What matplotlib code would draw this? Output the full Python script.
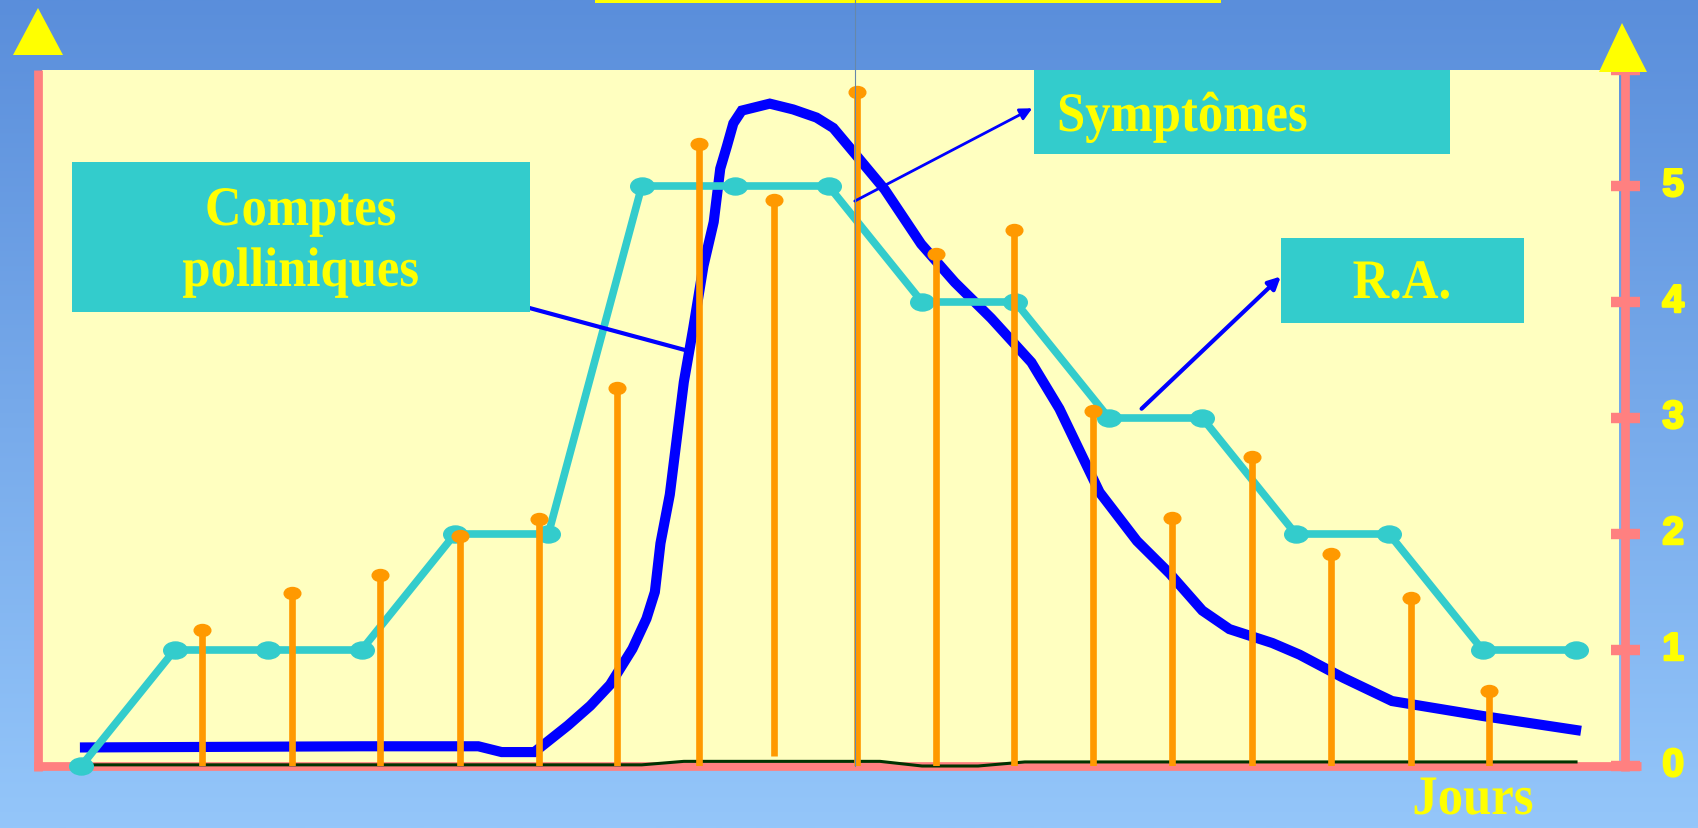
import numpy as np
import matplotlib
matplotlib.use("Agg")
import matplotlib.pyplot as plt
from matplotlib.path import Path
from matplotlib.transforms import Affine2D
from matplotlib.patches import Polygon, Rectangle
from matplotlib.lines import Line2D
from matplotlib.patheffects import AbstractPathEffect, withStroke

# ---------------- data ----------------
ra_days = [0, 1, 2, 3, 4, 5, 6, 7, 8, 9, 10, 11, 12, 13, 14, 15, 16]
ra_values = [0, 1, 1, 1, 2, 2, 5, 5, 5, 4, 4, 3, 3, 2, 2, 1, 1]

stem_days = [1.29, 2.26, 3.20, 4.05, 4.90, 5.74, 6.61, 7.41, 8.30, 9.15,
             9.98, 10.83, 11.68, 12.53, 13.38, 14.23, 15.07]
stem_values = [1.17, 1.49, 1.65, 1.98, 2.13, 3.26, 5.36, 4.88, 5.81, 4.41,
               4.62, 3.06, 2.14, 2.66, 1.83, 1.45, 0.65]
stem_bases = [0, 0, 0, 0, 0, 0, 0, 0.09, 0, 0, 0, 0, 0, 0, 0, 0, 0]

pollen_days = [0.04, 3.0, 4.25, 4.5, 4.85, 4.96, 5.21, 5.45, 5.66, 5.9, 6.05,
               6.14, 6.20, 6.30, 6.45, 6.55, 6.66, 6.77, 6.84, 6.91, 6.98,
               7.07, 7.37, 7.62, 7.87, 8.05, 8.30, 8.60, 8.99, 9.35, 9.74,
               10.17, 10.47, 10.90, 11.30, 11.65, 12.00, 12.29, 12.75, 13.04,
               13.51, 14.03, 15.01, 16.0]
pollen_values = [0.16, 0.17, 0.17, 0.12, 0.12, 0.19, 0.35, 0.52, 0.70, 1.01,
                 1.27, 1.50, 1.92, 2.34, 3.31, 3.77, 4.31, 4.69, 5.15, 5.34,
                 5.54, 5.65, 5.71, 5.66, 5.59, 5.50, 5.26, 4.97, 4.50, 4.17,
                 3.86, 3.48, 3.08, 2.36, 1.94, 1.66, 1.34, 1.18, 1.06, 0.96,
                 0.76, 0.56, 0.43, 0.31]

base_days = [0, 6.0, 6.45, 8.55, 9.0, 9.6, 10.1, 16.0]
base_values = [0.01, 0.01, 0.04, 0.04, 0.0, 0.0, 0.035, 0.035]

ytick_values = [0, 1, 2, 3, 4, 5]
ytick_labels = ["0", "1", "2", "3", "4", "5"]

label_pollen = "Comptes\npolliniques"
label_symptoms = "Symptômes"
label_ra = "R.A."
xlabel = "Jours"

# ---------------- style ----------------
W, H = 1698, 829
CREAM = "#FFFFC0"
PINK = "#FF8080"
TEAL = "#33CCCC"
ORANGE = "#FF9900"
BLUE = "#0000FF"
YELLOW = "#FFFF00"
SERIF = ["Liberation Serif", "DejaVu Serif"]
SANS = ["Liberation Sans", "DejaVu Sans"]


class Stretch(AbstractPathEffect):
    """Draw text glyphs stretched vertically around their baseline."""

    def __init__(self, sy):
        super().__init__()
        self.sy = sy

    def draw_path(self, renderer, gc, tpath, affine, rgbFace=None):
        renderer.draw_path(gc, tpath, Affine2D().scale(1.0, self.sy) + affine,
                           rgbFace)


def fx(px):
    return px / W


def fy(py):
    return 1 - py / H


fig = plt.figure(figsize=(W / 100, H / 100), dpi=100)

# gradient background
bg = fig.add_axes([0, 0, 1, 1], zorder=-10)
top = np.array([0x5A, 0x8E, 0xDB]) / 255
bot = np.array([0x94, 0xC6, 0xFA]) / 255
t = np.linspace(0, 1, 256)[:, None]
grad = (top[None, :] * (1 - t) + bot[None, :] * t)[:, None, :]
bg.imshow(grad, aspect="auto", extent=[0, 1, 0, 1], interpolation="bilinear")
bg.set_axis_off()

# main axes = cream area
left_px, right_px, top_px, bot_px = 42, 1619, 71, 767
ax = fig.add_axes([fx(left_px), fy(bot_px), (right_px - left_px) / W,
                   (bot_px - top_px) / H])
ax.set_facecolor(CREAM)
ax.set_xlim(-0.42, 16.46)
ax.set_ylim(0, 6.0)
for s in ax.spines.values():
    s.set_visible(False)
ax.set_xticks([])
ax.set_yticks([])

# elliptical marker
ell = Path.unit_circle().transformed(Affine2D().scale(1.0, 0.72))

# pollen curve
ax.plot(pollen_days, pollen_values, color=BLUE, lw=7.3, solid_joinstyle="miter",
        zorder=3)
# baseline (dark green)
ax.plot(base_days, base_values, color="#003300", lw=2.2, zorder=3.5,
        clip_on=False)
# R.A. teal
ax.plot(ra_days, ra_values, color=TEAL, lw=5.5, marker=ell, ms=17,
        zorder=4, clip_on=False)
# stems (symptoms)
for d, v, b in zip(stem_days, stem_values, stem_bases):
    ax.plot([d, d], [b, v], color=ORANGE, lw=4.8, zorder=5,
            solid_capstyle="butt")
ax.plot(stem_days, stem_values, ls="none", marker=ell, ms=12, color=ORANGE,
        zorder=5)

# pink axes
ax.plot([-0.464, -0.464], [-0.04, 6.0], color=PINK, lw=6.3, clip_on=False,
        zorder=2, solid_capstyle="butt")
ax.plot([-0.51, 16.70], [0, 0], color=PINK, lw=6.3, clip_on=False, zorder=2,
        solid_capstyle="butt")
ax.plot([16.52, 16.52], [-0.04, 6.04], color=PINK, lw=6.3, clip_on=False,
        zorder=2, solid_capstyle="butt")
for v in ytick_values + [6.0]:
    ax.plot([16.37, 16.68], [v, v], color=PINK, lw=7.5, clip_on=False,
            zorder=2, solid_capstyle="butt")
for v, lab in zip(ytick_values, ytick_labels):
    ax.text(17.04, v, lab, color=YELLOW, fontsize=28, fontweight="bold",
            family=SANS, ha="center", va="center", clip_on=False,
            path_effects=[withStroke(linewidth=1.8, foreground=YELLOW)])

# connectors / arrows
ax.plot([4.79, 6.49], [3.95, 3.58], color=BLUE, lw=3, zorder=6)
ax.annotate("", xy=(10.18, 5.67), xytext=(8.28, 4.87),
            arrowprops=dict(arrowstyle="-|>", color=BLUE, lw=2,
                            mutation_scale=18, shrinkA=0, shrinkB=0),
            zorder=6)
ax.annotate("", xy=(12.84, 4.22), xytext=(11.35, 3.08),
            arrowprops=dict(arrowstyle="-|>", color=BLUE, lw=3,
                            mutation_scale=18, shrinkA=0, shrinkB=0),
            zorder=6)

# label boxes (figure pixel coords)
def box(x0, y0, x1, y1):
    fig.patches.append(Rectangle((fx(x0), fy(y1)), (x1 - x0) / W,
                                 (y1 - y0) / H, transform=fig.transFigure,
                                 facecolor=TEAL, edgecolor="none", zorder=5))

box(72, 163, 530, 313)
box(1034, 71, 1450, 155)
box(1281, 239, 1524, 324)

stretch = [Stretch(1.1)]
lab_kw = dict(color=YELLOW, fontsize=36.5, fontweight="bold", family=SERIF,
              va="baseline", zorder=6, path_effects=stretch)
pl = label_pollen.split("\n")
fig.text(fx(301), fy(226), pl[0], ha="center", **lab_kw)
fig.text(fx(301), fy(287), pl[1], ha="center", **lab_kw)
fig.text(fx(1057), fy(132), label_symptoms, ha="left", **lab_kw)
fig.text(fx(1402), fy(299), label_ra, ha="center", **lab_kw)
fig.text(fx(1473), fy(815), xlabel, ha="center", **lab_kw)

# decorative triangles, top bar and thin vertical line
for pts in ([(38, 9), (13, 56), (63, 56)], [(1622, 24), (1599, 73), (1647, 73)]):
    fig.patches.append(Polygon([(fx(a), fy(b)) for a, b in pts], closed=True,
                               transform=fig.transFigure, facecolor=YELLOW,
                               edgecolor="none", zorder=1))
fig.patches.append(Rectangle((fx(595), fy(4)), (1221 - 595) / W, 4 / H,
                             transform=fig.transFigure, facecolor=YELLOW,
                             edgecolor="none", zorder=1))
fig.lines.append(Line2D([fx(855), fx(855)], [fy(0), fy(767)],
                        transform=fig.transFigure, color="#6688AA", lw=0.8,
                        zorder=7))

fig.savefig("out.png", dpi=100)
